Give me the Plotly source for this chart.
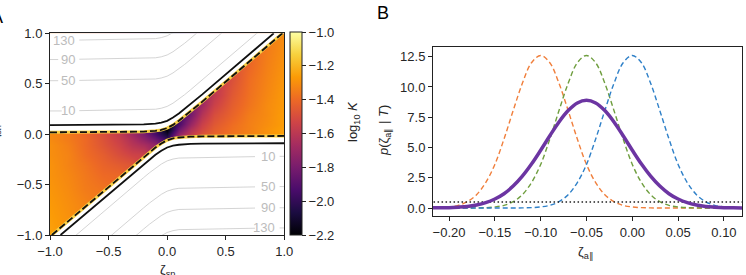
import numpy as np
import plotly.graph_objects as go

FONT = "Liberation Sans, Arial, sans-serif"

# ---------------- Panel A data ----------------
hm_x = [-1.0, -0.85, -0.7, -0.55, -0.4, -0.3, -0.2, -0.1, 0.0, 0.1, 0.2, 0.3, 0.4, 0.55, 0.7, 0.85, 1.0]
hm_y = [-1.0, -0.85, -0.7, -0.55, -0.4, -0.3, -0.2, -0.1, -0.05, 0.0, 0.05, 0.1, 0.2, 0.3, 0.4, 0.55, 0.7, 0.85, 1.0]
# log10 K read per column (x), rows follow hm_y
c_m100 = [-1.25, -1.26, -1.27, -1.28, -1.29, -1.29, -1.30, -1.30, -1.31, -1.31] + [-1.31] * 9
c_m085 = [-1.29, -1.29, -1.30, -1.31, -1.32, -1.33, -1.33, -1.34, -1.35, -1.35] + [-1.35] * 9
c_m070 = [-1.33, -1.33, -1.33, -1.35, -1.36, -1.37, -1.39, -1.40, -1.40, -1.41] + [-1.41] * 9
c_m055 = [-1.37, -1.37, -1.37, -1.37, -1.40, -1.42, -1.44, -1.47, -1.48, -1.49] + [-1.49] * 9
c_m040 = [-1.41] * 5 + [-1.45, -1.50, -1.54, -1.56, -1.58] + [-1.59] * 9
c_m030 = [-1.47] * 6 + [-1.54, -1.61, -1.64, -1.68] + [-1.69] * 9
c_m020 = [-1.55] * 7 + [-1.66, -1.73, -1.79] + [-1.81] * 9
c_m010 = [-1.69] * 7 + [-1.73, -1.83, -1.93] + [-1.97] * 9
c_000 = [-1.97] * 8 + [-1.98, -2.10] + [-2.2] * 9
c_p010 = [-1.69] * 9 + [-1.72, -1.83, -1.93] + [-1.97] * 7
c_p020 = [-1.55] * 9 + [-1.57, -1.63, -1.70, -1.81] + [-1.81] * 6
c_p030 = [-1.47] * 9 + [-1.48, -1.52, -1.55, -1.62, -1.69] + [-1.69] * 5
c_p040 = [-1.41] * 9 + [-1.42, -1.44, -1.46, -1.50, -1.55, -1.59] + [-1.59] * 4
c_p055 = [-1.37] * 9 + [-1.37, -1.38, -1.39, -1.42, -1.44, -1.46, -1.49] + [-1.49] * 3
c_p070 = [-1.33] * 9 + [-1.33, -1.34, -1.34, -1.35, -1.37, -1.38, -1.39, -1.41, -1.41, -1.41]
c_p085 = [-1.29] * 9 + [-1.29, -1.29, -1.30, -1.31, -1.31, -1.32, -1.33, -1.34, -1.35, -1.35]
c_p100 = [-1.25] * 9 + [-1.25, -1.25, -1.26, -1.26, -1.27, -1.27, -1.28, -1.29, -1.30, -1.31]
hm_cols = [c_m100, c_m085, c_m070, c_m055, c_m040, c_m030, c_m020, c_m010, c_000,
           c_p010, c_p020, c_p030, c_p040, c_p055, c_p070, c_p085, c_p100]
hm_z = np.array(hm_cols).T

# dashed boundaries of the coloured region
ub_x = [-1.0, -0.3, -0.2, -0.1, -0.05, 0.0, 0.05, 0.1, 0.15, 0.2, 0.3, 0.984]
ub_y = [0.018, 0.022, 0.025, 0.033, 0.042, 0.060, 0.092, 0.133, 0.178, 0.225, 0.322, 1.0]
lb_x = [-0.984, -0.3, -0.2, -0.15, -0.1, -0.05, 0.0, 0.05, 0.1, 0.2, 0.3, 1.0]
lb_y = [-1.0, -0.322, -0.225, -0.178, -0.133, -0.092, -0.060, -0.042, -0.033, -0.025, -0.022, -0.018]
# solid black lines
us_x = [-1.0, -0.3, -0.2, -0.1, -0.05, 0.0, 0.05, 0.1, 0.15, 0.2, 0.3, 0.91]
us_y = [0.09, 0.094, 0.097, 0.105, 0.114, 0.132, 0.164, 0.205, 0.25, 0.297, 0.394, 1.0]
ls_x = [-0.91, -0.3, -0.2, -0.15, -0.1, -0.05, 0.0, 0.05, 0.1, 0.2, 0.3, 1.0]
ls_y = [-1.0, -0.394, -0.297, -0.25, -0.205, -0.164, -0.132, -0.114, -0.105, -0.097, -0.094, -0.09]

# grey contour lines: shape of the bend and level positions
bend_x = [-0.75, -0.2, -0.1, -0.05, 0.0, 0.05, 0.1, 0.15, 0.2, 0.3, 1.0]
bend_dy = [0.003, 0.010, 0.017, 0.027, 0.045, 0.077, 0.117, 0.162, 0.21, 0.307, 1.002]
top_levels = ["130", "90", "50", "10"]
top_pos = [0.93, 0.74, 0.53, 0.23]
top_stub_end = [None, -0.93, -0.93, -0.90]
bot_levels = ["10", "50", "90", "130"]
bot_pos = [-0.22, -0.52, -0.73, -0.93]

# ---------------- Panel B data ----------------
zeta_x = [-0.22, -0.21, -0.20, -0.19, -0.18, -0.17, -0.16, -0.15, -0.14, -0.13, -0.12, -0.11,
          -0.10, -0.09, -0.08, -0.07, -0.06, -0.05, -0.04, -0.03, -0.02, -0.01, 0.00, 0.01,
          0.02, 0.03, 0.04, 0.05, 0.06, 0.07, 0.08, 0.09, 0.10, 0.11, 0.12]
p_orange = [0.01, 0.03, 0.09, 0.22, 0.52, 1.1, 2.1, 3.6, 5.7, 8.05, 10.3, 12.0,
            12.6, 12.0, 10.3, 8.05, 5.7, 3.6, 2.1, 1.1, 0.52, 0.22, 0.09, 0.03,
            0.01, 0, 0, 0, 0, 0, 0, 0, 0, 0, 0]
p_green = [0, 0, 0, 0, 0, 0.01, 0.03, 0.09, 0.22, 0.52, 1.1, 2.1,
           3.6, 5.7, 8.05, 10.3, 12.0, 12.6, 12.0, 10.3, 8.05, 5.7, 3.6, 2.1,
           1.1, 0.52, 0.22, 0.09, 0.03, 0.01, 0, 0, 0, 0, 0]
p_blue = [0, 0, 0, 0, 0, 0, 0, 0, 0, 0, 0.01, 0.03,
          0.09, 0.22, 0.52, 1.1, 2.1, 3.6, 5.7, 8.05, 10.3, 12.0, 12.6, 12.0,
          10.3, 8.05, 5.7, 3.6, 2.1, 1.1, 0.52, 0.22, 0.09, 0.03, 0.01]
p_total = [0.01, 0.02, 0.03, 0.07, 0.13, 0.25, 0.44, 0.74, 1.18, 1.81, 2.63, 3.63,
           4.77, 5.97, 7.11, 8.05, 8.68, 8.9, 8.68, 8.05, 7.11, 5.97, 4.77, 3.63,
           2.63, 1.81, 1.18, 0.74, 0.44, 0.25, 0.13, 0.07, 0.03, 0.02, 0.01]
thresh_x = [-0.23, 0.13]
thresh_y = [0.5, 0.5]

fig = go.Figure()

# ---- Panel A ----
fig.add_trace(go.Heatmap(
    x=hm_x, y=hm_y, z=hm_z, zmin=-2.2, zmax=-1.0, colorscale="Inferno", zsmooth="best",
    xaxis="x", yaxis="y", hoverinfo="skip",
    colorbar=dict(x=290 / 746, xanchor="left", xpad=0, y=1 - 133.5 / 275, yanchor="middle",
                  len=203 / 275, lenmode="fraction", ypad=0, thickness=12, thicknessmode="pixels",
                  outlinewidth=1, outlinecolor="#222",
                  tickvals=[-1.0, -1.2, -1.4, -1.6, -1.8, -2.0, -2.2], tickformat=".1f",
                  ticks="outside", ticklen=4, tickcolor="#222",
                  tickfont=dict(family=FONT, size=13, color="#262626"))))

mask_style = dict(mode="lines", fill="toself", fillcolor="white", line=dict(width=0),
                  xaxis="x", yaxis="y", hoverinfo="skip", showlegend=False)
fig.add_trace(go.Scatter(x=[-1.1] + ub_x + [1.1, -1.1], y=[ub_y[0]] + ub_y + [1.1, 1.1], **mask_style))
fig.add_trace(go.Scatter(x=[-1.1] + lb_x + [1.1, 1.1, -1.1],
                         y=[-1.1] + lb_y + [lb_y[-1], -1.1, -1.1], **mask_style))

for bx, by in ((ub_x, ub_y), (lb_x, lb_y)):
    fig.add_trace(go.Scatter(x=bx, y=by, mode="lines", line=dict(color="#f7cf46", width=3),
                             xaxis="x", yaxis="y", hoverinfo="skip", showlegend=False))

grey = dict(color="#cfcfcf", width=0.9)
for c, stub in zip(top_pos, top_stub_end):
    xs = list(bend_x)
    ys = [c + d for d in bend_dy]
    if stub is not None:
        xs = [-1.0, stub, None] + xs
        ys = [c, c, None] + ys
    fig.add_trace(go.Scatter(x=xs, y=ys, mode="lines", line=grey, xaxis="x", yaxis="y",
                             hoverinfo="skip", showlegend=False))
for c in bot_pos:
    xs = [1.0, 0.96, None] + [-v for v in bend_x]
    ys = [c, c, None] + [c - d for d in bend_dy]
    fig.add_trace(go.Scatter(x=xs, y=ys, mode="lines", line=grey, xaxis="x", yaxis="y",
                             hoverinfo="skip", showlegend=False))

for bx, by in ((us_x, us_y), (ls_x, ls_y)):
    fig.add_trace(go.Scatter(x=bx, y=by, mode="lines", line=dict(color="#111111", width=1.8),
                             xaxis="x", yaxis="y", hoverinfo="skip", showlegend=False))
for bx, by in ((ub_x, ub_y), (lb_x, lb_y)):
    fig.add_trace(go.Scatter(x=bx, y=by, mode="lines",
                             line=dict(color="#111111", width=1.8, dash="7px,3px"),
                             xaxis="x", yaxis="y", hoverinfo="skip", showlegend=False))

# ---- Panel B ----
for ys, col in ((p_orange, "#f07f3c"), (p_green, "#6f9e3f"), (p_blue, "#2f80c8")):
    fig.add_trace(go.Scatter(x=zeta_x, y=ys, mode="lines", line_shape="spline",
                             line=dict(color=col, width=1.4, dash="5px,3px"),
                             xaxis="x2", yaxis="y2", hoverinfo="skip", showlegend=False))
fig.add_trace(go.Scatter(x=thresh_x, y=thresh_y, mode="lines",
                         line=dict(color="#222222", width=1.4, dash="1.5px,2.5px"),
                         xaxis="x2", yaxis="y2", hoverinfo="skip", showlegend=False))
fig.add_trace(go.Scatter(x=zeta_x, y=p_total, mode="lines", line_shape="spline",
                         line=dict(color="#6c35a2", width=3.5),
                         xaxis="x2", yaxis="y2", hoverinfo="skip", showlegend=False))

axis_common = dict(showline=True, mirror=True, linecolor="#222222", linewidth=1,
                   ticks="outside", ticklen=4, tickcolor="#222222", showgrid=False,
                   zeroline=False, tickfont=dict(family=FONT, size=13, color="#262626"))

annotations = []
for t, c in zip(top_levels, top_pos):
    annotations.append(dict(x=-0.77, y=c, xref="x", yref="y", text=t, showarrow=False,
                            xanchor="right", yanchor="middle",
                            font=dict(family=FONT, size=13, color="#bcbcbc")))
for t, c in zip(bot_levels, bot_pos):
    annotations.append(dict(x=0.936, y=c, xref="x", yref="y", text=t, showarrow=False,
                            xanchor="right", yanchor="middle",
                            font=dict(family=FONT, size=13, color="#bcbcbc")))

txt = dict(showarrow=False, xref="paper", yref="paper")
annotations += [
    dict(text="A", x=5 / 746, y=1 - 17 / 275, xanchor="right", yanchor="middle",
         font=dict(family=FONT, size=18, color="#000"), **txt),
    dict(text="B", x=375 / 746, y=1 - 13.5 / 275, xanchor="left", yanchor="middle",
         font=dict(family=FONT, size=18, color="#000"), **txt),
    dict(text="ζ<sub>sp</sub>", x=167 / 746, y=1 - 260 / 275, xanchor="center", yanchor="top",
         font=dict(family=FONT, size=13, color="#262626"), **txt),
    dict(text="ζ<sub>sn</sub>", x=5 / 746, y=1 - 133 / 275, xanchor="right", yanchor="middle",
         textangle=-90, font=dict(family=FONT, size=13, color="#262626"), **txt),
    dict(text="log<sub>10</sub> <i>K</i>", x=354 / 746, y=1 - 122 / 275, xanchor="center",
         yanchor="middle", textangle=-90, font=dict(family=FONT, size=13, color="#262626"), **txt),
    dict(text="<i>p</i>(ζ<sub>a∥</sub> | <i>T</i>)", x=384 / 746, y=1 - 131 / 275,
         xanchor="center", yanchor="middle", textangle=-90,
         font=dict(family=FONT, size=13, color="#262626"), **txt),
    dict(text="ζ<sub>a∥</sub>", x=586 / 746, y=1 - 252 / 275, xanchor="center", yanchor="middle",
         font=dict(family=FONT, size=13, color="#262626"), **txt),
]

fig.update_layout(
    width=746, height=275, margin=dict(l=0, r=0, t=0, b=0, autoexpand=False),
    paper_bgcolor="white", plot_bgcolor="white", showlegend=False,
    xaxis=dict(domain=[50 / 746, 284.3 / 746], range=[-1, 1], anchor="y",
               tickvals=[-1, -0.5, 0, 0.5, 1], tickformat=".1f", **axis_common),
    yaxis=dict(domain=[1 - 235 / 275, 1 - 33.3 / 275], range=[-1, 1], anchor="x",
               tickvals=[-1, -0.5, 0, 0.5, 1], tickformat=".1f", **axis_common),
    xaxis2=dict(domain=[433 / 746, 742 / 746], range=[-0.2175, 0.1197], anchor="y2",
                tickvals=[-0.2, -0.15, -0.1, -0.05, 0, 0.05, 0.1], tickformat=".2f", **axis_common),
    yaxis2=dict(domain=[1 - 216 / 275, 1 - 47 / 275], range=[-0.66, 13.3], anchor="x2",
                tickvals=[0, 2.5, 5, 7.5, 10, 12.5], tickformat=".1f", **axis_common),
    annotations=annotations,
)

fig.write_html("out.html")
